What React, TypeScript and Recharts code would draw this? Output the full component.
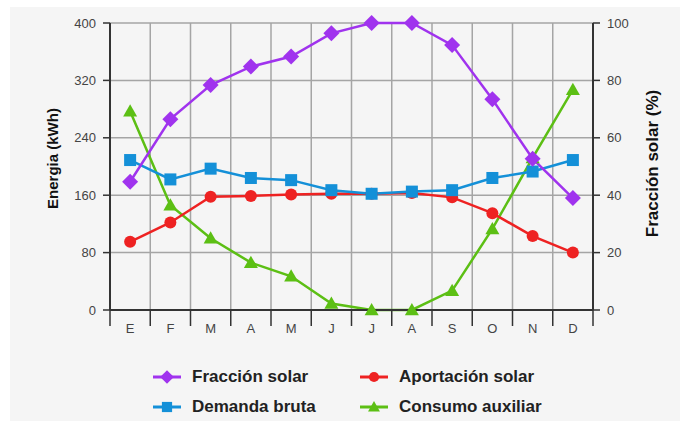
import React from "react"
import { LineChart, Line, XAxis, YAxis, CartesianGrid } from "recharts"

const months = ["E", "F", "M", "A", "M", "J", "J", "A", "S", "O", "N", "D"]
const fraccionSolar = [44.7, 66.5, 78.4, 84.8, 88.3, 96.4, 100, 100, 92.3, 73.4, 52.7, 39]
const demandaBruta = [209, 182, 197, 184, 181, 167, 162, 165, 167, 184, 193, 209]
const aportacionSolar = [95, 122, 158, 159, 161, 162, 162, 163, 157, 135, 103, 80]
const consumoAuxiliar = [277, 146, 100, 66, 47, 9, 0, 0, 27, 113, 212, 307]
const energyTicks = [0, 80, 160, 240, 320, 400]
const percentTicks = [0, 20, 40, 60, 80, 100]

const FONT = '"Liberation Sans", Arial, sans-serif'
const PURPLE = "#a033ee"
const BLUE = "#1490d8"
const RED = "#ee2222"
const GREEN = "#5cbf14"

const CHART_W = 670
const PLOT_LEFT = 100
const PLOT_RIGHT_GAP = 87
// half a month band, so points sit in the middle of each column
const HALF_BAND = (CHART_W - PLOT_LEFT - PLOT_RIGHT_GAP) / months.length / 2

type Shape = "diamond" | "square" | "circle" | "triangle"

function Marker({ shape, cx, cy, color, scale = 1 }: { shape: Shape; cx: number; cy: number; color: string; scale?: number }) {
  if (shape === "diamond") {
    const h = 8 * scale
    return <path d={`M${cx},${cy - h}L${cx + h},${cy}L${cx},${cy + h}L${cx - h},${cy}Z`} fill={color} />
  }
  if (shape === "square") {
    const h = 6 * scale
    return <rect x={cx - h} y={cy - h} width={h * 2} height={h * 2} fill={color} />
  }
  if (shape === "circle") {
    return <circle cx={cx} cy={cy} r={6 * scale} fill={color} />
  }
  const h = 7 * scale
  return <path d={`M${cx},${cy - h}L${cx + h},${cy + h * 0.75}L${cx - h},${cy + h * 0.75}Z`} fill={color} />
}

const makeDot = (shape: Shape, color: string) => (p: any) => {
  if (p.cx == null || p.cy == null) return <g key={`${shape}-${p.index}`} />
  return (
    <g key={`${shape}-${p.index}`}>
      <Marker shape={shape} cx={p.cx} cy={p.cy} color={color} />
    </g>
  )
}

// month label centred in its band, tick marks on band edges
function MonthTick(props: any) {
  const { x, y, payload } = props
  const left = x - HALF_BAND
  return (
    <g>
      <line x1={left} y1={y} x2={left} y2={y + 16} stroke="#333" strokeWidth={1.5} />
      {payload.index === months.length - 1 && (
        <line x1={x + HALF_BAND} y1={y} x2={x + HALF_BAND} y2={y + 16} stroke="#333" strokeWidth={1.5} />
      )}
      <text x={x} y={y + 18} textAnchor="middle" dominantBaseline="central" fill="#444" fontSize={13} fontFamily={FONT}>
        {months[payload.index]}
      </text>
    </g>
  )
}

function AxisTitle(props: any) {
  const { viewBox, value, shift, dy = 0, size = 15 } = props
  if (!viewBox) return null
  const cx = viewBox.x + shift
  const cy = viewBox.y + viewBox.height / 2 + dy
  return (
    <text
      x={cx}
      y={cy}
      transform={`rotate(-90, ${cx}, ${cy})`}
      textAnchor="middle"
      dominantBaseline="central"
      fontWeight="bold"
      fontSize={size}
      fontFamily={FONT}
      fill="#111"
    >
      {value}
    </text>
  )
}

function LegendItem({ label, color, shape, left, top }: { label: string; color: string; shape: Shape; left: number; top: number }) {
  return (
    <div style={{ position: "absolute", left, top, height: 20, display: "flex", alignItems: "center", whiteSpace: "nowrap" }}>
      <svg width={28} height={20}>
        <line x1={0} y1={10} x2={28} y2={10} stroke={color} strokeWidth={3} />
        <Marker shape={shape} cx={14} cy={10} color={color} scale={0.85} />
      </svg>
      <span style={{ marginLeft: 11, fontFamily: FONT, fontWeight: "bold", fontSize: 17, color: "#222" }}>{label}</span>
    </div>
  )
}

export default function App() {
  const data = months.map((m, i) => ({
    month: m,
    fraccion: fraccionSolar[i],
    demanda: demandaBruta[i],
    aportacion: aportacionSolar[i],
    consumo: consumoAuxiliar[i],
  }))

  return (
    <div style={{ position: "absolute", left: 10, top: 7, width: 670, height: 414, background: "#f5f5f5" }}>
      <LineChart width={CHART_W} height={340} data={data} margin={{ top: 16, right: 0, left: 0, bottom: 0 }}>
        <CartesianGrid
          yAxisId="left"
          stroke="#a5a5a5"
          strokeWidth={1.5}
          verticalCoordinatesGenerator={({ offset }: any) =>
            Array.from({ length: months.length + 1 }, (_, i) => offset.left + (i * offset.width) / months.length)
          }
        />
        <XAxis
          dataKey="month"
          height={37}
          padding={{ left: HALF_BAND, right: HALF_BAND }}
          tickSize={0}
          tickMargin={0}
          tickLine={false}
          axisLine={{ stroke: "#333", strokeWidth: 2 }}
          tick={<MonthTick />}
          interval={0}
        />
        <YAxis
          yAxisId="left"
          width={PLOT_LEFT}
          domain={[0, 400]}
          ticks={energyTicks}
          tickSize={7}
          tickMargin={7}
          axisLine={{ stroke: "#333", strokeWidth: 2 }}
          tickLine={{ stroke: "#333", strokeWidth: 1.5 }}
          tick={{ fill: "#444", fontSize: 13, fontFamily: FONT }}
          label={<AxisTitle value="Energia (kWh)" shift={42} dy={-8} size={15} />}
        />
        <YAxis
          yAxisId="right"
          orientation="right"
          width={PLOT_RIGHT_GAP}
          domain={[0, 100]}
          ticks={percentTicks}
          tickSize={7}
          tickMargin={7}
          axisLine={{ stroke: "#333", strokeWidth: 2 }}
          tickLine={{ stroke: "#333", strokeWidth: 1.5 }}
          tick={{ fill: "#444", fontSize: 13, fontFamily: FONT }}
          label={<AxisTitle value="Fracción solar (%)" shift={59} dy={-3} size={17} />}
        />
        <Line yAxisId="left" dataKey="consumo" stroke={GREEN} strokeWidth={2.5} dot={makeDot("triangle", GREEN)} isAnimationActive={false} />
        <Line yAxisId="left" dataKey="aportacion" stroke={RED} strokeWidth={2.5} dot={makeDot("circle", RED)} isAnimationActive={false} />
        <Line yAxisId="left" dataKey="demanda" stroke={BLUE} strokeWidth={2.5} dot={makeDot("square", BLUE)} isAnimationActive={false} />
        <Line yAxisId="right" dataKey="fraccion" stroke={PURPLE} strokeWidth={2.5} dot={makeDot("diamond", PURPLE)} isAnimationActive={false} />
      </LineChart>
      <LegendItem label="Fracción solar" color={PURPLE} shape="diamond" left={143} top={360} />
      <LegendItem label="Aportación solar" color={RED} shape="circle" left={350} top={360} />
      <LegendItem label="Demanda bruta" color={BLUE} shape="square" left={143} top={390} />
      <LegendItem label="Consumo auxiliar" color={GREEN} shape="triangle" left={350} top={390} />
    </div>
  )
}
